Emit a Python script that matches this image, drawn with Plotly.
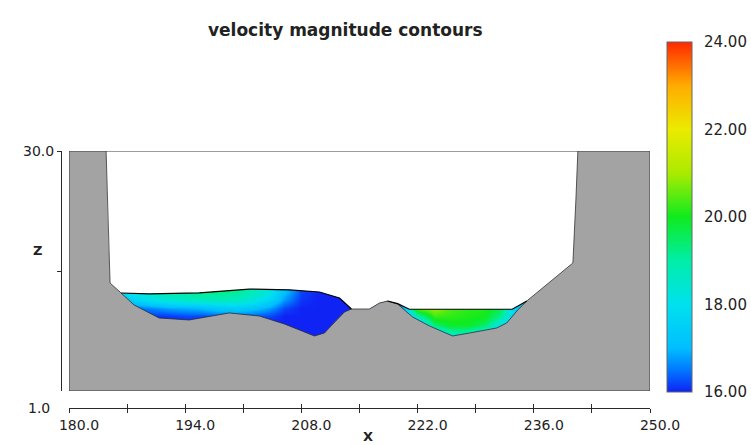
import plotly.graph_objects as go

# ---------------- data ----------------
# Ground / bed profile across the section (station x, elevation z)
bed_x = [180.0, 184.47, 184.71, 184.95, 186.28, 187.84, 190.86, 194.48, 199.31,
         202.93, 205.95, 207.76, 209.57, 210.78, 211.98, 213.19, 214.03, 216.20,
         217.41, 218.38, 219.59, 221.40, 223.45, 225.02, 226.22, 228.28, 231.53,
         232.74, 234.07, 235.16, 237.93, 240.71, 241.07, 241.31, 250.0]
bed_z = [30.0, 30.0, 20.45, 14.05, 12.84, 11.39, 9.82, 9.58, 10.43,
         10.06, 9.10, 8.37, 7.65, 8.01, 9.34, 10.55, 10.91, 10.91,
         11.63, 11.87, 11.50, 9.94, 8.85, 8.13, 7.65, 8.01, 8.61,
         9.22, 10.79, 11.88, 14.17, 16.47, 24.08, 30.0, 30.0]

# Free surface of the two wetted pools
left_surf_x = [186.28, 189.66, 195.69, 198.71, 201.72, 206.55, 210.17, 212.59, 214.03]
left_surf_z = [12.84, 12.74, 12.86, 13.08, 13.32, 13.22, 12.96, 12.24, 10.91]
right_surf_x = [218.38, 219.60, 221.00, 233.40, 235.16]
right_surf_z = [11.87, 11.55, 10.88, 10.88, 11.88]

# Velocity magnitude samples (rows: elevation, columns: station)
vel_x = [186, 188, 190, 192, 194, 196, 198, 200, 202, 204, 206, 208, 210, 212, 214,
         216, 218, 220, 222, 224, 226, 228, 230, 232, 234, 236]
vel_z = [7, 8, 9, 10, 11, 12, 13, 14]
vel = [
    [16.0, 16.0, 16.0, 16.0, 16.0, 16.0, 16.0, 16.0, 16.0, 16.0, 16.0, 16.0, 16.0, 16.0, 16.0,
     16.3, 16.3, 16.3, 16.3, 16.3, 16.4, 16.5, 16.5, 16.3, 16.3, 16.3],
    [16.0, 16.0, 16.0, 16.0, 16.0, 16.0, 16.0, 16.0, 16.0, 16.0, 16.0, 16.0, 16.0, 16.0, 16.0,
     16.3, 16.3, 16.3, 16.3, 17.2, 18.8, 18.8, 17.8, 16.6, 16.4, 16.4],
    [16.0, 16.0, 16.0, 16.0, 16.0, 16.0, 16.0, 16.1, 16.0, 16.0, 16.0, 16.0, 16.0, 16.0, 16.0,
     16.3, 16.3, 16.3, 16.8, 19.4, 19.9, 19.9, 19.5, 18.0, 16.6, 16.6],
    [16.0, 16.1, 16.1, 16.1, 16.2, 16.2, 16.3, 16.4, 16.3, 16.2, 16.0, 16.0, 16.0, 16.0, 16.0,
     16.3, 16.3, 16.4, 18.8, 20.3, 20.2, 20.1, 20.0, 19.2, 17.0, 16.8],
    [16.2, 16.4, 16.6, 16.8, 16.9, 17.0, 17.3, 17.4, 17.2, 16.8, 16.2, 16.0, 16.0, 16.0, 16.0,
     16.3, 16.3, 16.6, 20.6, 20.9, 20.4, 20.2, 20.1, 19.6, 17.3, 17.0],
    [17.0, 17.6, 18.0, 18.3, 18.5, 18.6, 18.7, 18.6, 18.3, 17.7, 16.7, 16.1, 16.0, 16.0, 16.0,
     16.3, 16.3, 16.9, 21.3, 21.1, 20.4, 20.2, 20.1, 19.7, 17.5, 17.0],
    [17.9, 18.3, 18.7, 19.0, 19.2, 19.3, 19.3, 19.2, 18.8, 18.3, 17.1, 16.2, 16.0, 16.0, 16.0,
     16.3, 16.3, 17.0, 21.5, 21.2, 20.4, 20.2, 20.1, 19.7, 17.5, 17.0],
    [18.0, 18.4, 18.8, 19.1, 19.2, 19.3, 19.3, 19.2, 18.9, 18.4, 17.3, 16.3, 16.0, 16.0, 16.0,
     16.3, 16.3, 17.0, 21.5, 21.2, 20.4, 20.2, 20.1, 19.7, 17.5, 17.0],
]

x_range = [180.0, 250.0]
z_range = [1.0, 30.0]
x_ticks = [180, 187, 194, 201, 208, 215, 222, 229, 236, 243, 250]
x_labels = ["180.0", "", "194.0", "", "208.0", "", "222.0", "", "236.0", "", "250.0"]
cbar_ticks = [16, 18, 20, 22, 24]
cbar_lines = [18, 20, 22]
v_min, v_max = 16.0, 24.0

# ---------------- layout geometry ----------------
W, H = 751, 445
ML, MR, MT, MB = 61, 101, 151, 37
PW = W - ML - MR
PH = H - MT - MB


def px(xp):
    return (xp - ML) / PW


def py(yp):
    return (H - MB - yp) / PH


x_dom = [px(69), 1.0]
y_dom = [py(391), 1.0]

GRAY = "#a4a3a3"
INK = "#2a2a2a"
FONT = "DejaVu Sans"

jet = [
    [0.000, "rgb(15,35,245)"],
    [0.0625, "rgb(0,120,255)"],
    [0.125, "rgb(0,190,255)"],
    [0.250, "rgb(0,225,238)"],
    [0.375, "rgb(0,238,168)"],
    [0.500, "rgb(15,235,30)"],
    [0.625, "rgb(170,235,0)"],
    [0.750, "rgb(235,235,0)"],
    [0.875, "rgb(255,172,0)"],
    [1.000, "rgb(255,40,0)"],
]

fig = go.Figure()

# velocity field (masked afterwards by air and ground)
cb_top, cb_len = 42, 350
fig.add_trace(go.Heatmap(
    x=vel_x, y=vel_z, z=vel, zsmooth="best", colorscale=jet,
    zmin=v_min, zmax=v_max, hoverinfo="skip",
    colorbar=dict(
        thickness=25, thicknessmode="pixels",
        len=cb_len, lenmode="pixels",
        x=px(667), xanchor="left", xpad=0,
        y=py(cb_top + cb_len / 2), yanchor="middle", ypad=0,
        tickvals=cbar_ticks, tickformat=".2f",
        ticks="outside", ticklen=9, tickcolor="rgba(0,0,0,0)",
        tickfont=dict(family=FONT, size=15, color="#222"),
        outlinewidth=1, outlinecolor="#666",
    ),
))

# air above the free surface
hump_x = [x for x in bed_x if left_surf_x[-1] < x < right_surf_x[0]]
hump_z = [z for x, z in zip(bed_x, bed_z) if left_surf_x[-1] < x < right_surf_x[0]]
air_x = left_surf_x + hump_x + right_surf_x + [243, 243, 183, 183]
air_z = left_surf_z + hump_z + right_surf_z + [right_surf_z[-1], 30, 30, left_surf_z[0]]
fig.add_trace(go.Scatter(x=air_x, y=air_z, fill="toself", fillcolor="white",
                         mode="none", hoverinfo="skip", showlegend=False))

# ground
fig.add_trace(go.Scatter(x=bed_x + [250, 180], y=bed_z + [1, 1], fill="toself",
                         fillcolor=GRAY, mode="none", hoverinfo="skip", showlegend=False))

# ground outline and water surfaces
fig.add_trace(go.Scatter(x=bed_x[1:-1], y=bed_z[1:-1], mode="lines",
                         line=dict(color="rgba(40,40,40,0.75)", width=1),
                         hoverinfo="skip", showlegend=False, xaxis="x2", yaxis="y2"))
fig.add_trace(go.Scatter(x=left_surf_x, y=left_surf_z, mode="lines",
                         line=dict(color="black", width=1.2),
                         hoverinfo="skip", showlegend=False, xaxis="x2", yaxis="y2"))
fig.add_trace(go.Scatter(x=right_surf_x, y=right_surf_z, mode="lines",
                         line=dict(color="black", width=1.2),
                         hoverinfo="skip", showlegend=False, xaxis="x3", yaxis="y2"))

axis_common = dict(range=x_range, domain=x_dom, showgrid=False, zeroline=False)

fig.update_layout(
    width=W, height=H,
    margin=dict(l=ML, r=MR, t=MT, b=MB, autoexpand=False),
    paper_bgcolor="white", plot_bgcolor="white",
    showlegend=False,
    xaxis=dict(**axis_common, visible=False),
    yaxis=dict(range=z_range, domain=y_dom, visible=False),
    xaxis2=dict(**axis_common, overlaying="x", anchor="free", position=0,
                showline=True, linecolor=INK, linewidth=1,
                ticks="outside", ticklen=4, tickcolor=INK,
                tickvals=x_ticks, ticktext=x_labels, ticklabelshift=10,
                tickfont=dict(family=FONT, size=14, color="#222")),
    xaxis3=dict(**axis_common, overlaying="x", anchor="free", position=0,
                showline=False, ticks="inside", ticklen=4, tickcolor=INK,
                tickvals=x_ticks, showticklabels=False),
    yaxis2=dict(range=z_range, domain=y_dom, overlaying="y", anchor="free", position=0,
                showgrid=False, zeroline=False,
                showline=True, linecolor=INK, linewidth=1,
                ticks="outside", ticklen=4, tickcolor=INK,
                tickvals=[15.5, 30], ticktext=["", "30.0"],
                tickfont=dict(family=FONT, size=14, color="#222")),
)

# plot frame
fig.add_shape(type="rect", xref="x", yref="y", x0=x_range[0], x1=x_range[1],
              y0=z_range[0], y1=z_range[1], line=dict(color="#3a3a3a", width=1),
              layer="above")

# contour level marks across the colour bar
for v in cbar_lines:
    yy = cb_top + cb_len * (v_max - v) / (v_max - v_min)
    fig.add_shape(type="line", xref="paper", yref="paper",
                  x0=px(667), x1=px(692), y0=py(yy), y1=py(yy),
                  line=dict(color="rgba(0,0,0,0.55)", width=1.5))

ann = dict(xref="paper", yref="paper", showarrow=False, yanchor="middle")
fig.add_annotation(x=px(345), y=py(30), xanchor="center",
                   text="<b>velocity magnitude contours</b>",
                   font=dict(family=FONT, size=17, color="#222"), **ann)
fig.add_annotation(x=px(52), y=py(408), xanchor="right", text="1.0",
                   font=dict(family=FONT, size=14, color="#222"), **ann)
fig.add_annotation(x=px(37), y=py(250), xanchor="center", text="<b>Z</b>",
                   font=dict(family=FONT, size=13, color="#222"), **ann)
fig.add_annotation(x=px(368), y=py(436), xanchor="center", text="<b>X</b>",
                   font=dict(family=FONT, size=13, color="#222"), **ann)

fig.write_html("out.html")
